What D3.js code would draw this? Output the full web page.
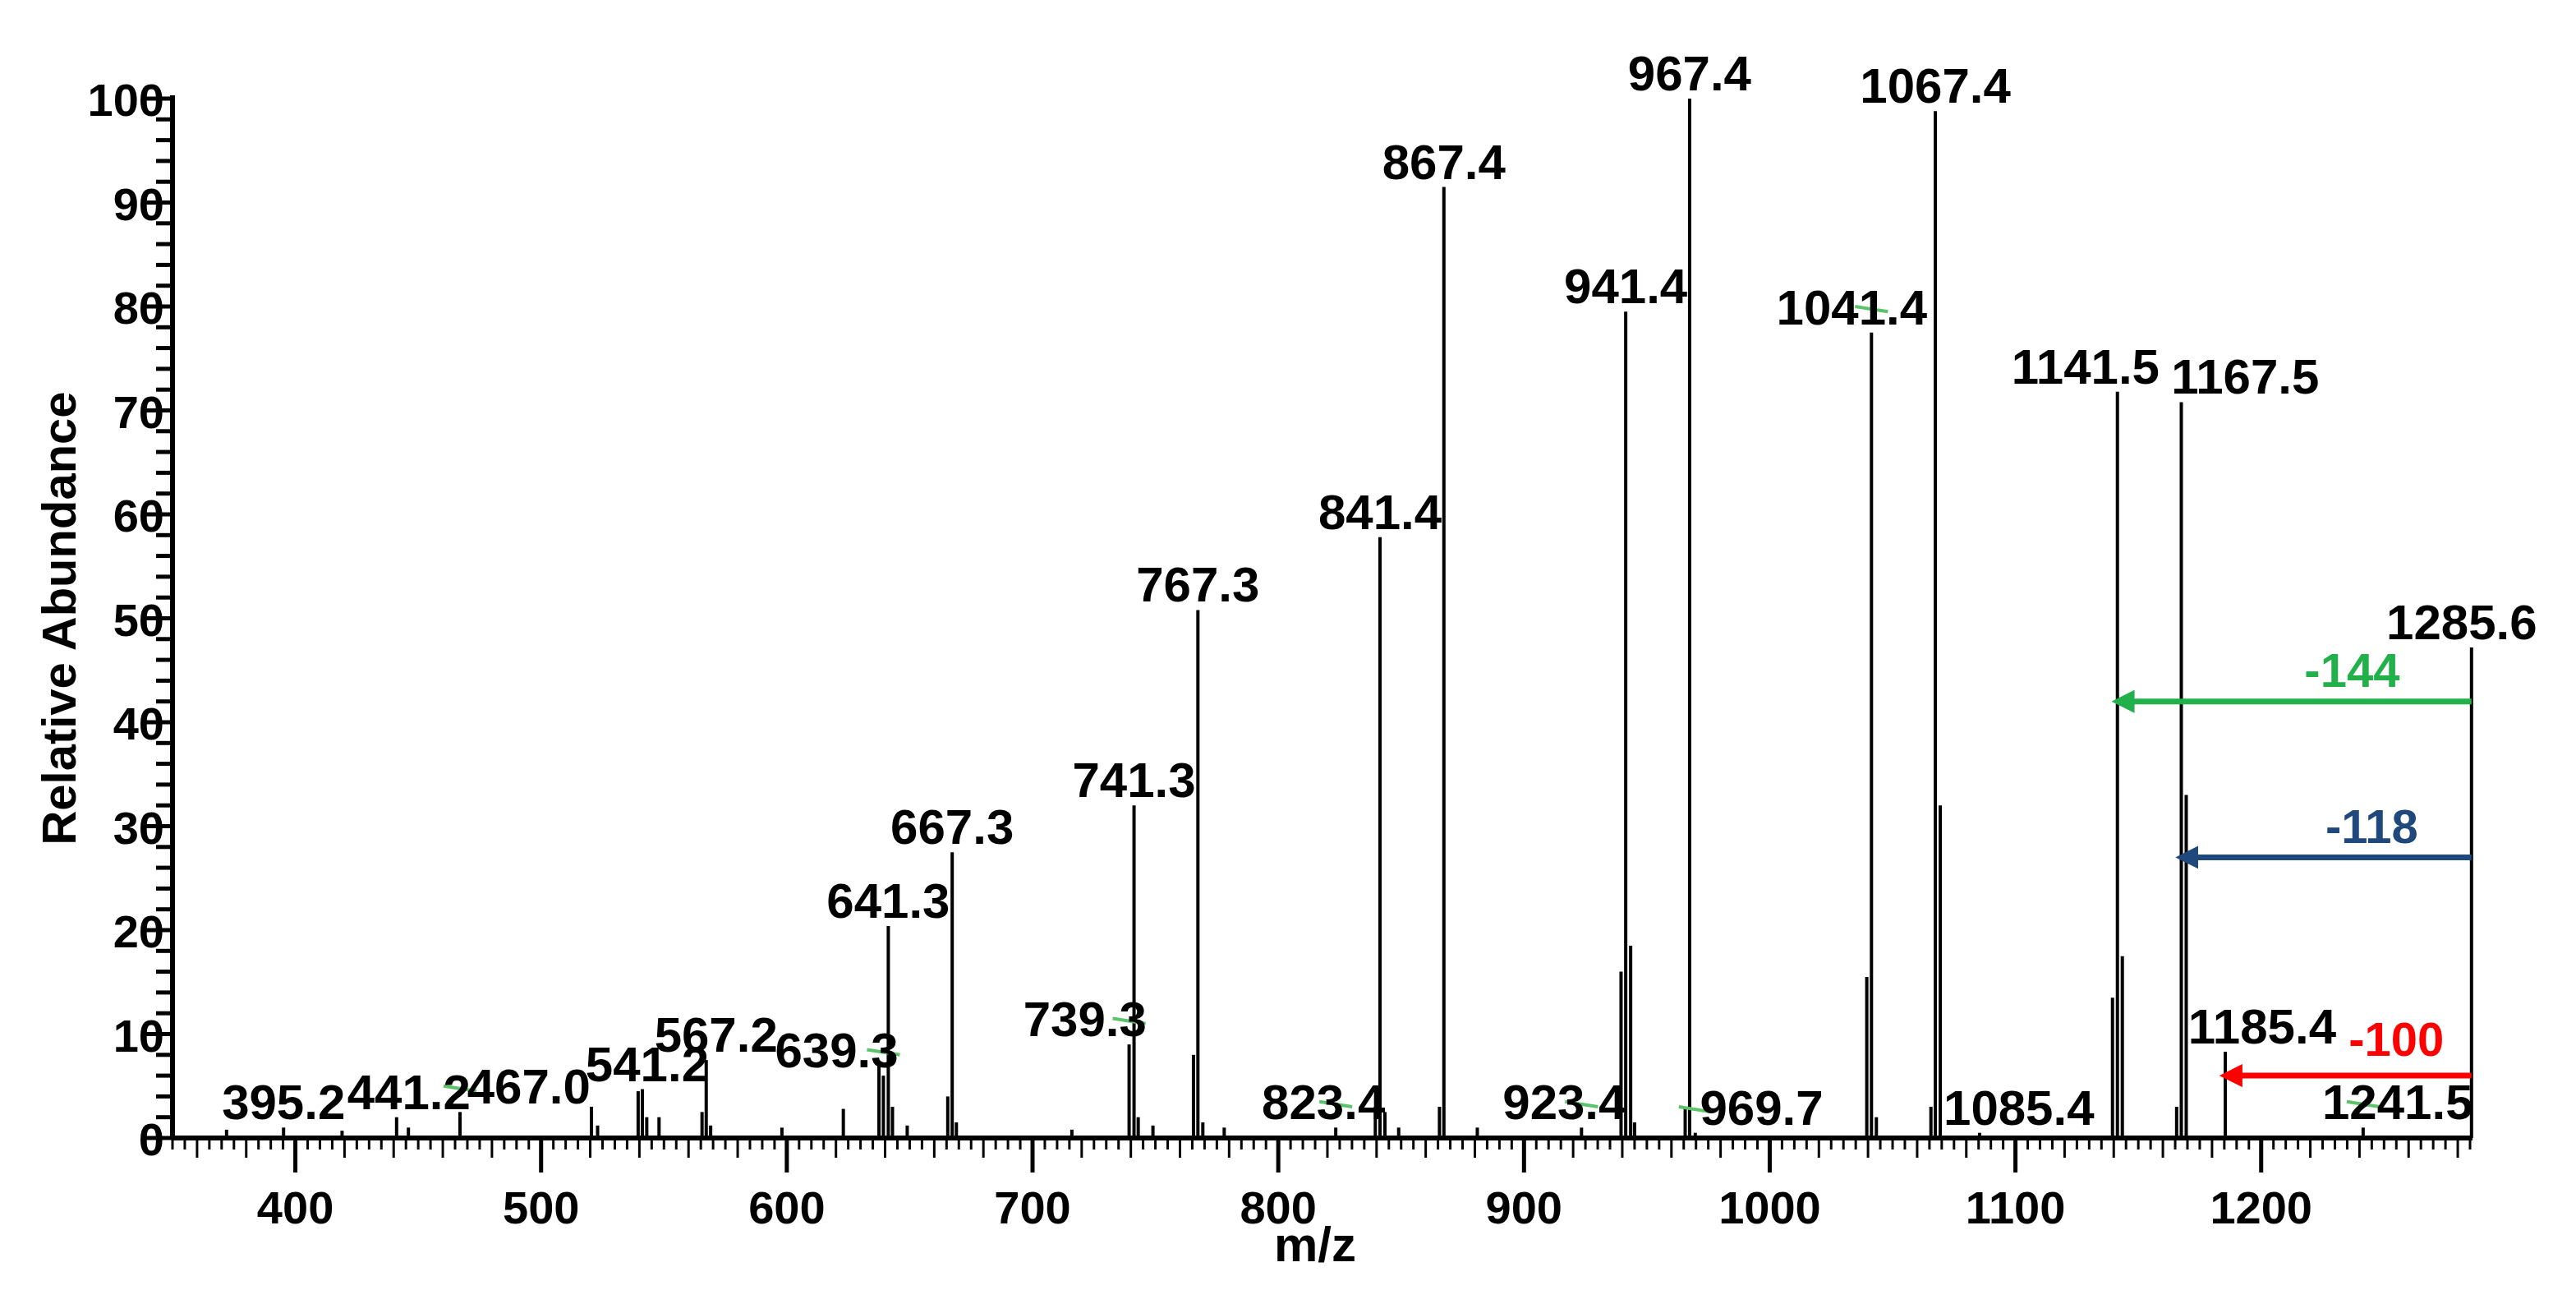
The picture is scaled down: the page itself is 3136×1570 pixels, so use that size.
<!DOCTYPE html>
<html><head><meta charset="utf-8">
<script src="https://cdn.jsdelivr.net/npm/d3@7/dist/d3.min.js"></script>
<style>body{margin:0;background:#fff}text{font-family:"Liberation Sans",Arial,sans-serif;font-weight:bold}</style>
</head><body><svg id="c" width="3136" height="1570"></svg>
<script>
// labelled peaks [m/z, abundance]
const labelMz = [395.2,441.2,467.0,541.2,567.2,639.3,641.3,667.3,739.3,741.3,767.3,823.4,841.4,867.4,923.4,941.4,967.4,969.7,1041.4,1067.4,1085.4,1141.5,1167.5,1185.4,1241.5,1285.6];
const labelAb = [1.0,2.0,2.5,4.7,7.5,6.0,20.4,27.5,9.0,32.0,50.8,1.0,57.8,91.5,1.0,79.5,100,0.5,77.5,98.8,0.5,71.8,70.8,8.3,1.0,47.2];
// horizontal label shift (m/z units) to avoid overlaps as in the original
const labelShift = [0,5,28,2,4,-19,0,0,-18,0,0,-5,0,0,-7,0,0,27,-8,0,16,-13,26,15,14,-4];
// unlabelled peaks
const minorMz = [372.0,419.0,446.0,520.5,523.0,539.5,543.0,548.0,565.5,569.0,598.0,623.0,637.5,643.0,649.0,665.5,669.0,716.0,743.0,749.0,765.5,769.3,778.0,839.5,843.4,849.0,865.6,881.0,939.5,943.4,945.0,965.6,1039.5,1043.4,1065.6,1069.4,1139.5,1143.5,1165.6,1169.5];
const minorAb = [0.8,0.7,1.0,3.0,1.2,4.5,2.0,2.0,2.5,1.2,1.0,2.8,7.0,3.0,1.2,4.0,1.5,0.8,2.0,1.2,8.0,1.5,1.0,3.0,2.5,1.0,3.0,1.0,16.0,18.5,1.5,3.0,15.5,2.0,3.0,32.0,13.5,17.5,3.0,33.0];
const xTicks = [400,500,600,700,800,900,1000,1100,1200];
const yTicks = [0,10,20,30,40,50,60,70,80,90,100];
// neutral losses from 1285.6
const arrowTo = [1141.5,1167.5,1185.4];
const arrowY = [42,27,6];
const arrowText = ["-144","-118","-100"];
const arrowCol = ["#22b04b","#1f497d","#ff0000"];
const arrowTxtPos = [[1237,45],[1245,30],[1255,9.5]];
const greenMarks = [467.0,639.3,739.3,823.4,923.4,969.7,1041.4,1241.5];

const svg = d3.select("#c");
const x = d3.scaleLinear().domain([350,1286]).range([210,3010]);
const y = d3.scaleLinear().domain([0,100]).range([1385,120]);

const defs = svg.append("defs");
arrowCol.forEach((c,i)=>{
  defs.append("marker").attr("id","ah"+i).attr("viewBox","0 0 10 10").attr("refX",1).attr("refY",5)
   .attr("markerWidth",4).attr("markerHeight",4).attr("orient","auto-start-reverse")
   .append("path").attr("d","M0,0L10,5L0,10z").attr("fill",c);
});

const peaks = labelMz.map((m,i)=>({m,a:labelAb[i]})).concat(minorMz.map((m,i)=>({m,a:minorAb[i]})));
svg.append("g").selectAll("line").data(peaks).join("line")
 .attr("x1",d=>x(d.m)).attr("x2",d=>x(d.m)).attr("y1",y(0)).attr("y2",d=>y(d.a))
 .attr("stroke","#000").attr("stroke-width",4);

// axes
const xa = svg.append("g").attr("transform",`translate(0,${y(0)})`);
xa.append("line").attr("x1",210).attr("x2",3010).attr("stroke","#000").attr("stroke-width",6);
const minorX = d3.range(350,1286,5);
xa.selectAll(".mt").data(minorX).join("line").attr("x1",d=>x(d)).attr("x2",d=>x(d)).attr("y1",0)
 .attr("y2",d=>d%100===0?42:(d%20===0?24:14)).attr("stroke","#000").attr("stroke-width",d=>d%100===0?5:3);
xa.selectAll("text").data(xTicks).join("text").attr("x",d=>x(d)).attr("y",104).attr("text-anchor","middle")
 .attr("font-size",56).text(d=>d);

const ya = svg.append("g");
ya.append("line").attr("x1",210).attr("x2",210).attr("y1",y(0)).attr("y2",y(100)-4).attr("stroke","#000").attr("stroke-width",6);
ya.selectAll(".mt").data(d3.range(0,101,2)).join("line").attr("x1",d=>d%10===0?178:190).attr("x2",210)
 .attr("y1",d=>y(d)).attr("y2",d=>y(d)).attr("stroke","#000").attr("stroke-width",5);
ya.selectAll("text").data(yTicks).join("text").attr("x",200).attr("y",d=>y(d)+21).attr("text-anchor","end")
 .attr("font-size",56).text(d=>d);

svg.append("text").attr("x",x(815)).attr("y",1535).attr("text-anchor","middle").attr("font-size",60).text("m/z");
svg.append("text").attr("transform",`translate(92,${y(50)}) rotate(-90)`).attr("text-anchor","middle").attr("font-size",58).text("Relative Abundance");

// green marks
svg.append("g").selectAll("line").data(greenMarks).join("line")
 .attr("x1",d=>x(d)-20).attr("x2",d=>x(d)+20)
 .attr("y1",d=>y(labelAb[labelMz.indexOf(d)]+2.5)).attr("y2",d=>y(labelAb[labelMz.indexOf(d)]+2))
 .attr("stroke","#5cc36a").attr("stroke-width",4);

// peak labels
svg.append("g").selectAll("text").data(labelMz).join("text")
 .attr("x",(d,i)=>x(d+labelShift[i])).attr("y",(d,i)=>y(labelAb[i])-10).attr("text-anchor","middle")
 .attr("font-size",60).attr("fill","#000").text(d=>d.toFixed(1));

// arrows
arrowTo.forEach((t,i)=>{
  svg.append("line").attr("x1",x(1285.6)).attr("x2",x(t)+18).attr("y1",y(arrowY[i])).attr("y2",y(arrowY[i]))
   .attr("stroke",arrowCol[i]).attr("stroke-width",7).attr("marker-end",`url(#ah${i})`);
  svg.append("text").attr("x",x(arrowTxtPos[i][0])).attr("y",y(arrowTxtPos[i][1])+20).attr("text-anchor","middle")
   .attr("font-size",58).attr("fill",arrowCol[i]).text(arrowText[i]);
});
</script></body></html>
